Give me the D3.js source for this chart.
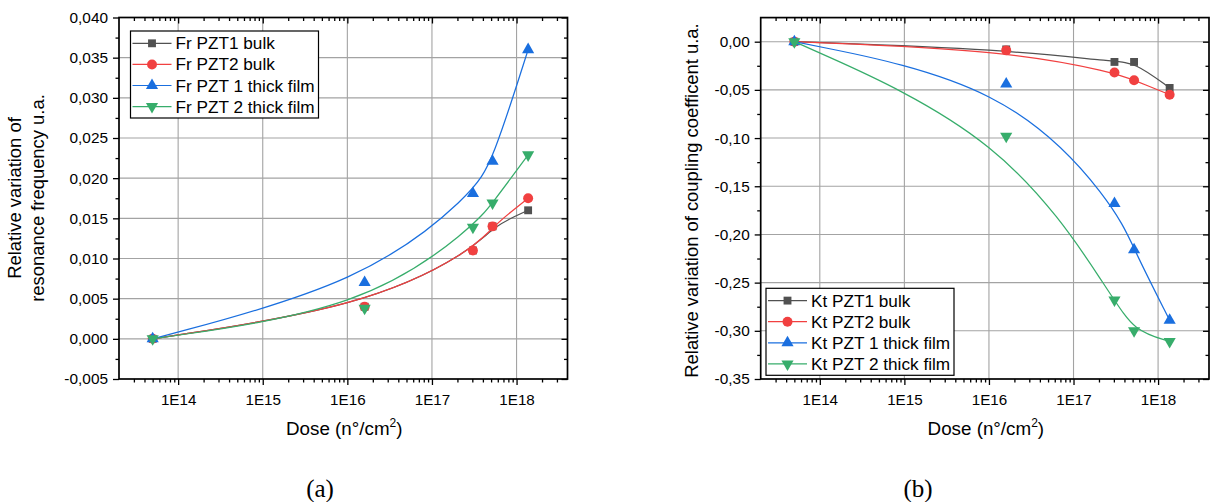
<!DOCTYPE html>
<html><head><meta charset="utf-8">
<script src="https://cdn.jsdelivr.net/npm/d3@7"></script>
<style>
body{margin:0;background:#fff}
svg{display:block}
text{fill:#000}
</style>
</head><body>
<svg id="c" width="1210" height="502"></svg>
<script>
// ---------- data ----------
const doses = [5e13, 1.6e16, 3.05e17, 5.2e17, 1.37e18];
const xTickValues = [1e14, 1e15, 1e16, 1e17, 1e18];
const xTickLabels = ["1E14", "1E15", "1E16", "1E17", "1E18"];

const frNames = ["Fr PZT1 bulk", "Fr PZT2 bulk", "Fr PZT 1 thick film", "Fr PZT 2 thick film"];
const frPZT1bulk  = [0, 0.0040, 0.0110, 0.0140, 0.0160];
const frPZT2bulk  = [0, 0.0040, 0.0110, 0.0140, 0.0175];
const frPZT1film  = [0, 0.0070, 0.0181, 0.0221, 0.0360];
const frPZT2film  = [0, 0.0038, 0.0139, 0.0169, 0.0229];
const frYTicks = [-0.005, 0, 0.005, 0.010, 0.015, 0.020, 0.025, 0.030, 0.035, 0.040];

const ktNames = ["Kt PZT1 bulk", "Kt PZT2 bulk", "Kt PZT 1 thick film", "Kt PZT 2 thick film"];
const ktPZT1bulk  = [0, -0.008, -0.021, -0.021, -0.048];
const ktPZT2bulk  = [0, -0.009, -0.032, -0.040, -0.055];
const ktPZT1film  = [0, -0.044, -0.168, -0.216, -0.289];
const ktPZT2film  = [0, -0.098, -0.268, -0.300, -0.311];
const ktYTicks = [-0.35, -0.30, -0.25, -0.20, -0.15, -0.10, -0.05, 0.00];

const colors = ["#515151", "#F14040", "#1A6FDF", "#37AD6B"];
const shapes = ["square", "circle", "up", "down"];

// ---------- helpers ----------
const SANS = '"Liberation Sans",Arial,sans-serif';
const SERIF = '"Liberation Serif","Times New Roman",serif';
const svg = d3.select("#c");
function fmt(v, dec) {
  const neg = v < -1e-12;
  return (neg ? "-" : "") + Math.abs(v).toFixed(dec).replace(".", ",");
}
function marker(g, shape, color, x, y) {
  let sym;
  if (shape === "square") sym = d3.symbol(d3.symbolSquare, 62);
  else if (shape === "circle") sym = d3.symbol(d3.symbolCircle, 78);
  else sym = d3.symbol(d3.symbolTriangle, 64);
  const p = g.append("path").attr("d", sym()).attr("fill", color);
  if (shape === "down") p.attr("transform", `translate(${x},${y}) rotate(180)`);
  else p.attr("transform", `translate(${x},${y})`);
}

function panel(cfg) {
  const g = svg.append("g").style("font-family", SANS);
  const x = d3.scaleLog().domain(cfg.xDomain).range([cfg.left, cfg.right]);
  const y = d3.scaleLinear().domain(cfg.yDomain).range([cfg.bottom, cfg.top]);

  // grid
  const grid = g.append("g").attr("stroke", "#a3a3a3").attr("stroke-width", 1.1);
  xTickValues.forEach(v => grid.append("line")
    .attr("x1", x(v)).attr("x2", x(v)).attr("y1", cfg.top).attr("y2", cfg.bottom));
  cfg.yTicks.forEach(v => {
    if (Math.abs(y(v) - cfg.bottom) < 1 || Math.abs(y(v) - cfg.top) < 1) return;
    grid.append("line").attr("x1", cfg.left).attr("x2", cfg.right).attr("y1", y(v)).attr("y2", y(v));
  });

  // minor ticks
  const minorX = [];
  for (let e = 13; e <= 18; e++) for (let k = 2; k <= 9; k++) {
    const v = k * Math.pow(10, e);
    if (v > cfg.xDomain[0] && v < cfg.xDomain[1]) minorX.push(v);
  }
  const minorY = [];
  for (let i = 0; i < cfg.yTicks.length - 1; i++) minorY.push((cfg.yTicks[i] + cfg.yTicks[i + 1]) / 2);
  const topTick = cfg.yTicks[cfg.yTicks.length - 1] + (cfg.yTicks[1] - cfg.yTicks[0]) / 2;
  if (topTick < cfg.yDomain[1] - 1e-9) minorY.push(topTick);

  // bottom axis
  const axB = d3.axisBottom(x).tickValues(xTickValues).tickFormat((d, i) => xTickLabels[i]).tickSizeOuter(0).tickSize(6).tickPadding(9);
  const gb = g.append("g").attr("transform", `translate(0,${cfg.bottom})`).call(axB);
  gb.select(".domain").remove();
  gb.selectAll("text").attr("font-size", 15.2).attr("font-family", SANS);
  g.append("g").attr("transform", `translate(0,${cfg.bottom})`)
    .call(d3.axisBottom(x).tickValues(minorX).tickFormat("").tickSizeOuter(0).tickSize(3.5))
    .select(".domain").remove();

  // top axis (inward ticks)
  g.append("g").attr("transform", `translate(0,${cfg.top})`)
    .call(d3.axisBottom(x).tickValues(xTickValues).tickFormat("").tickSizeOuter(0).tickSize(6)).select(".domain").remove();
  g.append("g").attr("transform", `translate(0,${cfg.top})`)
    .call(d3.axisBottom(x).tickValues(minorX).tickFormat("").tickSizeOuter(0).tickSize(3.5)).select(".domain").remove();

  // left axis
  const axL = d3.axisLeft(y).tickValues(cfg.yTicks).tickFormat(d => fmt(d, cfg.dec)).tickSizeOuter(0).tickSize(6).tickPadding(5);
  const gl = g.append("g").attr("transform", `translate(${cfg.left},0)`).call(axL);
  gl.select(".domain").remove();
  gl.selectAll("text").attr("font-size", 15.4).attr("font-family", SANS);
  g.append("g").attr("transform", `translate(${cfg.left},0)`)
    .call(d3.axisLeft(y).tickValues(minorY).tickFormat("").tickSizeOuter(0).tickSize(3.5)).select(".domain").remove();

  // right axis (inward ticks)
  g.append("g").attr("transform", `translate(${cfg.right},0)`)
    .call(d3.axisLeft(y).tickValues(cfg.yTicks).tickFormat("").tickSizeOuter(0).tickSize(6)).select(".domain").remove();
  g.append("g").attr("transform", `translate(${cfg.right},0)`)
    .call(d3.axisLeft(y).tickValues(minorY).tickFormat("").tickSizeOuter(0).tickSize(3.5)).select(".domain").remove();

  g.selectAll(".tick line").attr("stroke", "#000").attr("stroke-width", 1.3);

  // frame
  g.append("rect").attr("x", cfg.left).attr("y", cfg.top)
    .attr("width", cfg.right - cfg.left).attr("height", cfg.bottom - cfg.top)
    .attr("fill", "none").attr("stroke", "#000").attr("stroke-width", 1.7);

  // series
  const line = d3.line().x(d => x(d[0])).y(d => y(d[1])).curve(d3.curveBasis);
  cfg.series.forEach((vals, si) => {
    const pts = doses.map((d, i) => [d, vals[i]]);
    g.append("path").attr("d", line(pts)).attr("fill", "none")
      .attr("stroke", colors[si]).attr("stroke-width", 1.25);
    pts.forEach(p => marker(g, shapes[si], colors[si], x(p[0]), y(p[1])));
  });

  // legend
  const L = cfg.legend;
  const lg = g.append("g");
  lg.append("rect").attr("x", L.x).attr("y", L.y).attr("width", L.w).attr("height", L.h)
    .attr("fill", "#fff").attr("stroke", "#000").attr("stroke-width", 1.2);
  cfg.names.forEach((n, i) => {
    const cy = L.y + 12.3 + i * 21.1;
    lg.append("line").attr("x1", L.x + 2).attr("x2", L.x + 41).attr("y1", cy).attr("y2", cy)
      .attr("stroke", colors[i]).attr("stroke-width", 1.2);
    marker(lg, shapes[i], colors[i], L.x + 21.5, cy);
    lg.append("text").attr("x", L.x + 45).attr("y", cy + 6).attr("font-size", 17.2).text(n);
  });

  // x title
  const xt = g.append("text").attr("x", (cfg.left + cfg.right) / 2 + 1).attr("y", 434.5)
    .attr("text-anchor", "middle").attr("font-size", 18.8);
  xt.append("tspan").text("Dose (n°/cm");
  xt.append("tspan").attr("dy", -7.5).attr("font-size", 12).text("2");
  xt.append("tspan").attr("dy", 7.5).text(")");

  // panel label
  g.append("text").attr("x", cfg.labelX).attr("y", 497).attr("text-anchor", "middle")
    .attr("font-size", 25).style("font-family", SERIF).text(cfg.label);
  return g;
}

const left = panel({
  left: 119, right: 567.5, top: 17.5, bottom: 379,
  xDomain: [2e13, 4e18], yDomain: [-0.005, 0.040], yTicks: frYTicks, dec: 3,
  series: [frPZT1bulk, frPZT2bulk, frPZT1film, frPZT2film], names: frNames,
  legend: { x: 130.5, y: 31, w: 188, h: 87 }, label: "(a)", labelX: 320
});
left.append("text").attr("transform", "translate(21,198) rotate(-90)").attr("text-anchor", "middle")
  .attr("font-size", 18.4).text("Relative variation of");
left.append("text").attr("transform", "translate(44,198) rotate(-90)").attr("text-anchor", "middle")
  .attr("font-size", 18.4).text("resonance frequency u.a.");

const right = panel({
  left: 760.7, right: 1209, top: 17.6, bottom: 379,
  xDomain: [2e13, 4e18], yDomain: [-0.35, 0.025], yTicks: ktYTicks, dec: 2,
  series: [ktPZT1bulk, ktPZT2bulk, ktPZT1film, ktPZT2film], names: ktNames,
  legend: { x: 766, y: 288.3, w: 188, h: 87 }, label: "(b)", labelX: 918
});
right.append("text").attr("transform", "translate(698,200.5) rotate(-90)").attr("text-anchor", "middle")
  .attr("font-size", 18.4).text("Relative variation of coupling coefficent u.a.");
</script>
</body></html>
